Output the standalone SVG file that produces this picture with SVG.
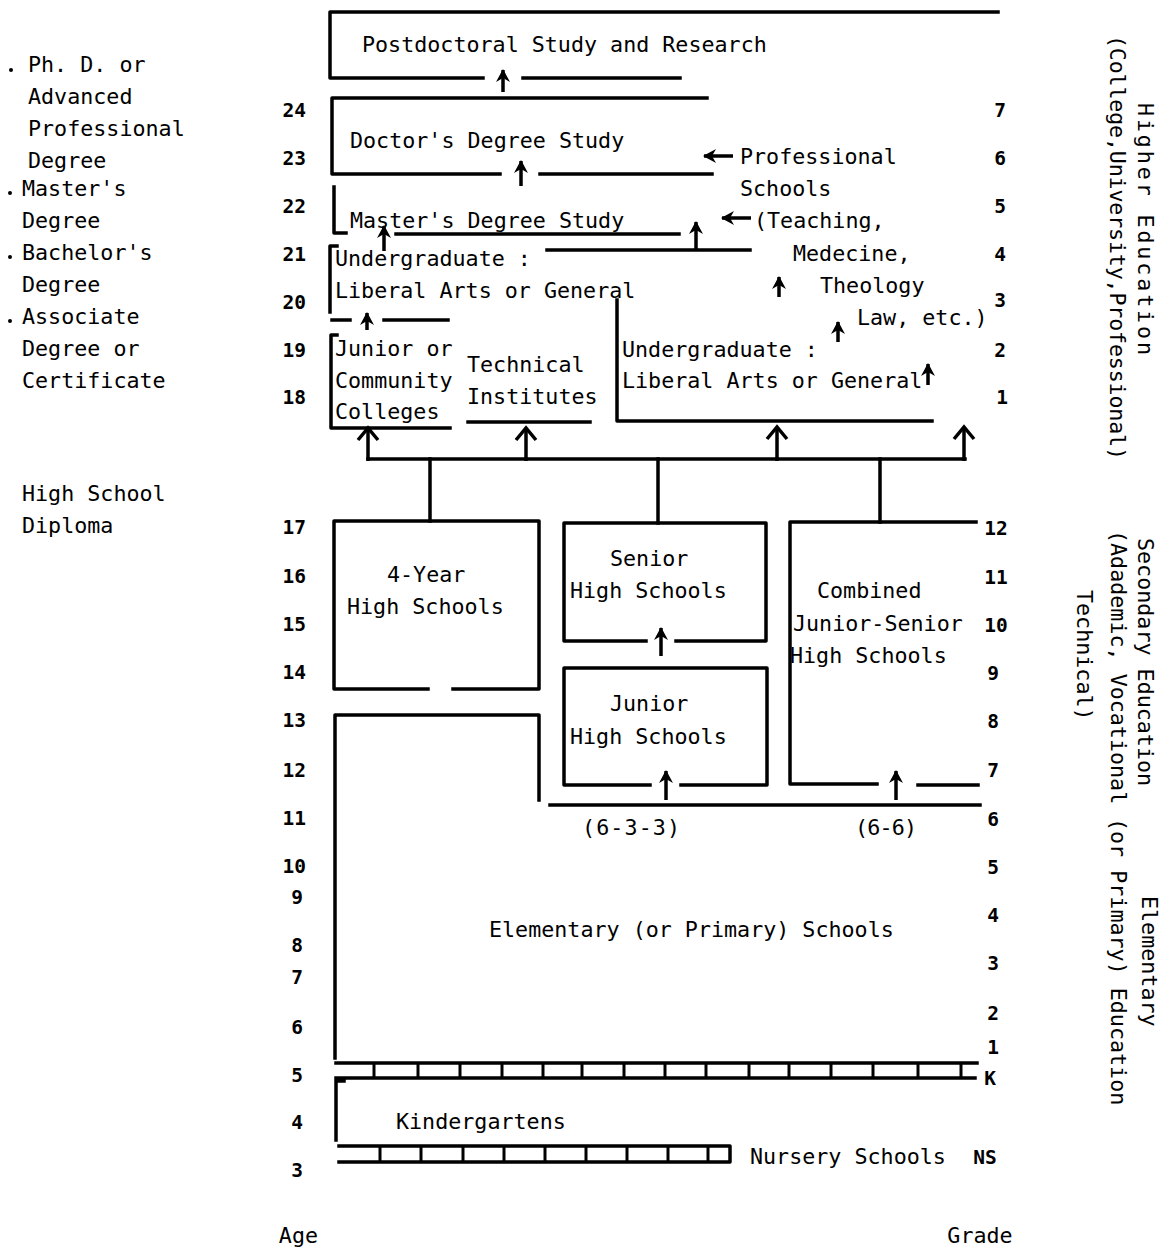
<svg xmlns="http://www.w3.org/2000/svg" width="1168" height="1248" viewBox="0 0 1168 1248">
<style>
.t{font-family:"DejaVu Sans Mono","Liberation Mono",monospace;font-size:21.7px;fill:#000}
.n{font-family:"DejaVu Sans Mono","Liberation Mono",monospace;font-size:19.5px;font-weight:bold;fill:#000}
.ln{stroke:#000;stroke-width:3.5;fill:none;stroke-linecap:square;stroke-linejoin:round}
.ar{stroke:#000;stroke-width:3.5;fill:none;stroke-linecap:butt}
.tk{stroke:#000;stroke-width:3;fill:none}
</style>
<defs>
<marker id="ah" markerUnits="userSpaceOnUse" markerWidth="14" markerHeight="14" viewBox="0 0 14 14" refX="12" refY="7" orient="auto">
<path d="M0,0 L13,7 L0,14 L4,7 Z" fill="#000"/>
</marker>
<marker id="chev" markerUnits="userSpaceOnUse" markerWidth="20" markerHeight="24" viewBox="0 0 20 24" refX="17" refY="12" orient="auto">
<path d="M5,2 L17,12 L5,22" fill="none" stroke="#000" stroke-width="3.5"/>
</marker>
</defs>
<rect width="1168" height="1248" fill="#fff"/>

<g id="postdoc">
<path class="ln" d="M998,12 H330 V78 H483 M523,78 H680"/>
<text class="t" x="362" y="52">Postdoctoral Study and Research</text>
</g>
<g id="doctor">
<path class="ln" d="M707,98 H332 V174 H500 M540,174 H712"/>
<text class="t" x="350" y="148">Doctor's Degree Study</text>
</g>
<g id="masters">
<path class="ln" d="M334,187 V233 H346 M396,234 H679"/>
<text class="t" x="350" y="228">Master's Degree Study</text>
</g>
<g id="undergrad-upper">
<path class="ln" d="M337,246 H330 V312 M547,250 H750 M332,320 H350 M384,320 H448"/>
<text class="t" x="335" y="266">Undergraduate :</text>
<text class="t" x="335" y="298">Liberal Arts or General</text>
</g>
<g id="junior-college">
<path class="ln" d="M337,335 H331 V428 H450"/>
<text class="t" x="335" y="356">Junior or</text>
<text class="t" x="335" y="388">Community</text>
<text class="t" x="335" y="419">Colleges</text>
</g>
<g id="technical">
<path class="ln" d="M468,422 H590"/>
<text class="t" x="467" y="372">Technical</text>
<text class="t" x="467" y="404">Institutes</text>
</g>
<g id="undergrad-lower">
<path class="ln" d="M617,300 V421 H932"/>
<text class="t" x="622" y="357">Undergraduate :</text>
<text class="t" x="622" y="388">Liberal Arts or General</text>
</g>
<g id="professional">
<text class="t" x="740" y="164">Professional</text>
<text class="t" x="740" y="196">Schools</text>
<text class="t" x="754" y="228">(Teaching,</text>
<text class="t" x="793" y="261">Medecine,</text>
<text class="t" x="820" y="293">Theology</text>
<text class="t" x="857" y="325">Law, etc.)</text>
</g>

<g id="four-year">
<path class="ln" d="M428,689 H334 V521 H539 V689 H453"/>
<text class="t" x="387" y="582">4-Year</text>
<text class="t" x="347" y="614">High Schools</text>
</g>
<g id="senior-high">
<path class="ln" d="M646,641 H564 V523 H766 V641 H676"/>
<text class="t" x="610" y="566">Senior</text>
<text class="t" x="570" y="598">High Schools</text>
</g>
<g id="junior-high">
<path class="ln" d="M650,785 H564 V668 H767 V785 H681"/>
<text class="t" x="610" y="711">Junior</text>
<text class="t" x="570" y="744">High Schools</text>
</g>
<g id="combined">
<path class="ln" d="M976,522 H790 V784 H877 M918,785 H978"/>
<text class="t" x="817" y="598">Combined</text>
<text class="t" x="793" y="631">Junior-Senior</text>
<text class="t" x="790" y="663">High Schools</text>
</g>
<g id="elementary">
<path class="ln" d="M335,1058 V715 H539 V800 M550,805 H980"/>
<text class="t" x="489" y="937">Elementary (or Primary) Schools</text>
<text class="t" x="582" y="835" font-size="20" textLength="98">(6-3-3)</text>
<text class="t" x="855" y="835" font-size="20" textLength="62">(6-6)</text>
</g>
<g id="kindergarten">
<path class="ln" d="M336,1063 H977 M336,1078 H975 M336,1081 V1140 M336,1081 H344"/>
<path class="tk" d="M374,1064 V1077 M418,1064 V1077 M460,1064 V1077 M502,1064 V1077 M543,1064 V1077 M582,1064 V1077 M624,1064 V1077 M665,1064 V1077 M706,1064 V1077 M749,1064 V1077 M789,1064 V1077 M831,1064 V1077 M873,1064 V1077 M918,1064 V1077 M961,1064 V1077"/>
<text class="t" x="396" y="1129">Kindergartens</text>
</g>
<g id="nursery">
<path class="ln" d="M339,1146 H730 V1162 H339"/>
<path class="tk" d="M380,1147 V1161 M421,1147 V1161 M463,1147 V1161 M504,1147 V1161 M545,1147 V1161 M586,1147 V1161 M627,1147 V1161 M668,1147 V1161 M708,1147 V1161"/>
<text class="t" x="750" y="1164">Nursery Schools</text>
</g>

<g id="connectors">
<line class="ar" x1="503" y1="92" x2="503" y2="70" marker-end="url(#ah)"/>
<line class="ar" x1="521" y1="186" x2="521" y2="161" marker-end="url(#ah)"/>
<line class="ar" x1="384" y1="251" x2="384" y2="226" marker-end="url(#ah)"/>
<line class="ar" x1="696" y1="249" x2="696" y2="222" marker-end="url(#ah)"/>
<line class="ar" x1="367" y1="330" x2="367" y2="313" marker-end="url(#ah)"/>
<line class="ar" x1="733" y1="156" x2="704" y2="156" marker-end="url(#ah)"/>
<line class="ar" x1="751" y1="218" x2="722" y2="218" marker-end="url(#ah)"/>
<line class="ar" x1="779" y1="297" x2="779" y2="277" marker-end="url(#ah)"/>
<line class="ar" x1="838" y1="342" x2="838" y2="322" marker-end="url(#ah)"/>
<line class="ar" x1="928" y1="385" x2="928" y2="364" marker-end="url(#ah)"/>
<path class="ln" d="M368,459 H965"/>
<line class="ar" x1="368" y1="461" x2="368" y2="428" marker-end="url(#chev)"/>
<line class="ar" x1="526" y1="461" x2="526" y2="428" marker-end="url(#chev)"/>
<line class="ar" x1="777" y1="461" x2="777" y2="427" marker-end="url(#chev)"/>
<line class="ar" x1="964" y1="461" x2="964" y2="427" marker-end="url(#chev)"/>
<path class="ln" d="M430,459 V521 M658,459 V523 M880,459 V522"/>
<line class="ar" x1="661" y1="656" x2="661" y2="628" marker-end="url(#ah)"/>
<line class="ar" x1="666" y1="800" x2="666" y2="771" marker-end="url(#ah)"/>
<line class="ar" x1="896" y1="800" x2="896" y2="771" marker-end="url(#ah)"/>
</g>

<g id="degree-labels">
<circle cx="11" cy="70" r="2"/>
<text class="t" x="28" y="72">Ph. D. or</text>
<text class="t" x="28" y="104">Advanced</text>
<text class="t" x="28" y="136">Professional</text>
<text class="t" x="28" y="168">Degree</text>
<circle cx="10" cy="193" r="2"/>
<text class="t" x="22" y="196">Master's</text>
<text class="t" x="22" y="228">Degree</text>
<circle cx="10" cy="257" r="2"/>
<text class="t" x="22" y="260">Bachelor's</text>
<text class="t" x="22" y="292">Degree</text>
<circle cx="10" cy="321" r="2"/>
<text class="t" x="22" y="324">Associate</text>
<text class="t" x="22" y="356">Degree or</text>
<text class="t" x="22" y="388">Certificate</text>
<text class="t" x="22" y="501">High School</text>
<text class="t" x="22" y="533">Diploma</text>
</g>

<g id="ages" text-anchor="end">
<text class="n" x="306" y="117">24</text>
<text class="n" x="306" y="165">23</text>
<text class="n" x="306" y="213">22</text>
<text class="n" x="306" y="261">21</text>
<text class="n" x="306" y="309">20</text>
<text class="n" x="306" y="357">19</text>
<text class="n" x="306" y="404">18</text>
<text class="n" x="306" y="534">17</text>
<text class="n" x="306" y="583">16</text>
<text class="n" x="306" y="631">15</text>
<text class="n" x="306" y="679">14</text>
<text class="n" x="306" y="727">13</text>
<text class="n" x="306" y="777">12</text>
<text class="n" x="306" y="825">11</text>
<text class="n" x="306" y="873">10</text>
<text class="n" x="303" y="904">9</text>
<text class="n" x="303" y="952">8</text>
<text class="n" x="303" y="984">7</text>
<text class="n" x="303" y="1034">6</text>
<text class="n" x="303" y="1082">5</text>
<text class="n" x="303" y="1129">4</text>
<text class="n" x="303" y="1177">3</text>
<text class="t" x="318" y="1243">Age</text>
</g>

<g id="grades" text-anchor="middle">
<text class="n" x="1000" y="117">7</text>
<text class="n" x="1000" y="165">6</text>
<text class="n" x="1000" y="213">5</text>
<text class="n" x="1000" y="261">4</text>
<text class="n" x="1000" y="307">3</text>
<text class="n" x="1000" y="357">2</text>
<text class="n" x="1002" y="404">1</text>
<text class="n" x="996" y="535">12</text>
<text class="n" x="996" y="584">11</text>
<text class="n" x="996" y="632">10</text>
<text class="n" x="993" y="680">9</text>
<text class="n" x="993" y="728">8</text>
<text class="n" x="993" y="777">7</text>
<text class="n" x="993" y="826">6</text>
<text class="n" x="993" y="874">5</text>
<text class="n" x="993" y="922">4</text>
<text class="n" x="993" y="970">3</text>
<text class="n" x="993" y="1020">2</text>
<text class="n" x="993" y="1054">1</text>
<text class="n" x="990" y="1085">K</text>
<text class="n" x="985" y="1164">NS</text>
<text class="t" x="980" y="1243">Grade</text>
</g>

<g id="level-labels">
<text class="t" transform="translate(1138,103) rotate(90)" textLength="252">Higher Education</text>
<text class="t" transform="translate(1110,35) rotate(90)" textLength="425">(College,University,Professional)</text>
<text class="t" transform="translate(1138,538) rotate(90)">Secondary Education</text>
<text class="t" transform="translate(1111,530) rotate(90)">(Adademic, Vocational</text>
<text class="t" transform="translate(1111,818) rotate(90)">(or Primary) Education</text>
<text class="t" transform="translate(1077,590) rotate(90)">Technical)</text>
<text class="t" transform="translate(1142,896) rotate(90)">Elementary</text>
</g>
</svg>
